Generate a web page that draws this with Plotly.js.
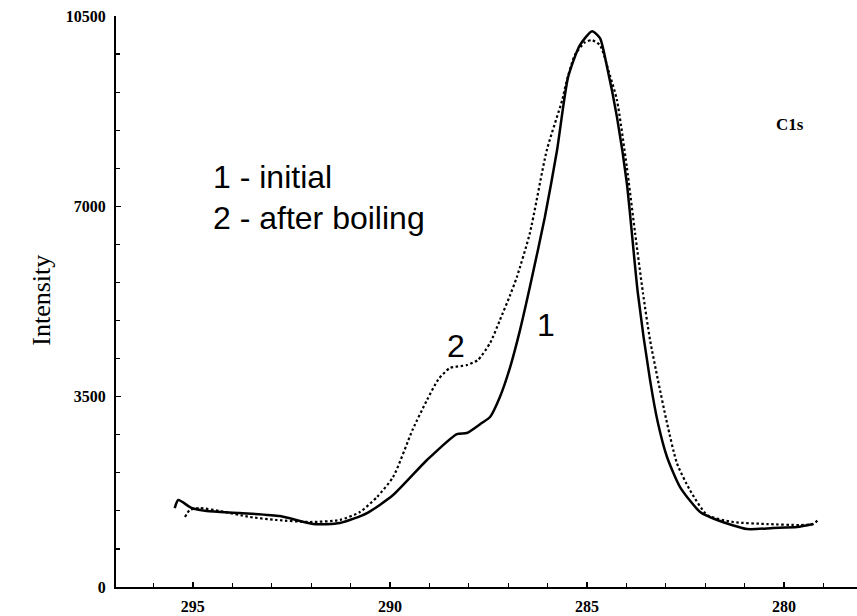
<!DOCTYPE html>
<html>
<head>
<meta charset="utf-8">
<script src="https://cdn.plot.ly/plotly-3.0.1.min.js"></script>
<style>html,body{margin:0;padding:0;background:#fff;}#chart{width:857px;height:616px;}</style>
</head>
<body>
<div id="chart"></div>
<script>
// Binding energy (eV) and intensity
const initialEnergy = [295.46, 295.37, 295.03, 294.65, 293.81, 292.79, 291.95, 291.27, 290.58, 289.92, 289.06, 288.30, 288.05, 287.67, 287.46, 287.21, 286.95, 286.70, 286.45, 286.07, 285.76, 285.48, 285.18, 284.87, 284.67, 284.49, 284.24, 283.99, 283.71, 283.40, 283.20, 282.97, 282.64, 282.13, 281.70, 280.94, 280.28, 279.67, 279.26];
const initialIntensity = [1452, 1599, 1452, 1397, 1360, 1305, 1158, 1176, 1360, 1691, 2335, 2813, 2831, 3015, 3125, 3493, 4044, 4724, 5515, 6801, 8033, 9375, 9963, 10221, 10092, 9559, 8640, 7426, 5404, 3805, 3015, 2390, 1838, 1379, 1232, 1066, 1085, 1103, 1158];

const boiledEnergy = [295.20, 295.08, 294.82, 294.32, 293.55, 292.87, 292.03, 291.27, 290.76, 290.33, 289.92, 289.42, 289.06, 288.77, 288.48, 288.05, 287.77, 287.46, 287.21, 286.95, 286.78, 286.45, 286.02, 285.63, 285.53, 285.31, 285.05, 284.87, 284.67, 284.42, 284.24, 283.99, 283.78, 283.58, 283.40, 283.20, 282.97, 282.72, 282.39, 281.95, 281.29, 280.43, 279.59, 279.26, 279.14];
const boiledIntensity = [1287, 1415, 1452, 1397, 1287, 1232, 1195, 1232, 1379, 1654, 2022, 2900, 3438, 3820, 4026, 4081, 4173, 4485, 4908, 5368, 5699, 6507, 8033, 8952, 9265, 9779, 10018, 10055, 9963, 9412, 8952, 7721, 6507, 5404, 4540, 3805, 3015, 2279, 1783, 1324, 1195, 1158, 1140, 1158, 1232];

const xTickVals = [295, 290, 285, 280];
const xTickText = ['295', '290', '285', '280'];
const yTickVals = [0, 3500, 7000, 10500];
const yTickText = ['0', '3500', '7000', '10500'];

const traces = [
  {x: initialEnergy, y: initialIntensity, type: 'scatter', mode: 'lines', name: '1 - initial',
   line: {color: '#000', width: 2.5, shape: 'spline', smoothing: 0.6}},
  {x: boiledEnergy, y: boiledIntensity, type: 'scatter', mode: 'lines', name: '2 - after boiling',
   line: {color: '#000', width: 2.2, dash: '2.5px,2.5px', shape: 'spline', smoothing: 0.6}}
];

const tickFont = {family: 'Liberation Serif', size: 16, color: '#000', weight: 'bold'};
const sans = {family: 'Liberation Sans', size: 32, color: '#000'};

const layout = {
  width: 857, height: 616,
  margin: {l: 116, r: 0, t: 16, b: 29},
  paper_bgcolor: '#fff', plot_bgcolor: '#fff',
  showlegend: false,
  xaxis: {
    range: [296.95, 278.15], tickmode: 'array', tickvals: xTickVals, ticktext: xTickText,
    showgrid: false, zeroline: false, showline: true, linecolor: '#000', linewidth: 2,
    ticks: 'inside', ticklen: 5, tickwidth: 1.5, tickcolor: '#000',
    tickfont: tickFont, ticklabelstandoff: 4,
    minor: {dtick: 1, tick0: 280, ticks: 'inside', ticklen: 4, tickwidth: 1.2, tickcolor: '#000', showgrid: false}
  },
  yaxis: {
    range: [0, 10500], tickmode: 'array', tickvals: yTickVals, ticktext: yTickText,
    showgrid: false, zeroline: false, showline: true, linecolor: '#000', linewidth: 2,
    ticks: 'inside', ticklen: 5, tickwidth: 1.5, tickcolor: '#000',
    tickfont: tickFont, ticklabelstandoff: 5,
    minor: {dtick: 700, tick0: 0, ticks: 'inside', ticklen: 4, tickwidth: 1.2, tickcolor: '#000', showgrid: false}
  },
  annotations: [
    {xref: 'paper', yref: 'paper', x: 0.128, y: 0.718, xanchor: 'left', yanchor: 'middle', showarrow: false, text: '1 - initial', font: sans},
    {xref: 'paper', yref: 'paper', x: 0.128, y: 0.646, xanchor: 'left', yanchor: 'middle', showarrow: false, text: '2 - after boiling', font: sans},
    {xref: 'paper', yref: 'paper', x: 0.580, y: 0.459, xanchor: 'center', yanchor: 'middle', showarrow: false, text: '1', font: sans},
    {xref: 'paper', yref: 'paper', x: 0.459, y: 0.422, xanchor: 'center', yanchor: 'middle', showarrow: false, text: '2', font: sans},
    {xref: 'paper', yref: 'paper', x: 0.910, y: 0.810, xanchor: 'center', yanchor: 'middle', showarrow: false, text: 'C1s',
     font: {family: 'Liberation Serif', size: 17, color: '#000', weight: 'bold'}},
    {xref: 'paper', yref: 'paper', x: -0.100, y: 0.503, xanchor: 'center', yanchor: 'middle', showarrow: false, textangle: -90, text: 'Intensity',
     font: {family: 'Liberation Serif', size: 26, color: '#000'}}
  ]
};

Plotly.newPlot('chart', traces, layout, {staticPlot: true, displayModeBar: false});
</script>
</body>
</html>
